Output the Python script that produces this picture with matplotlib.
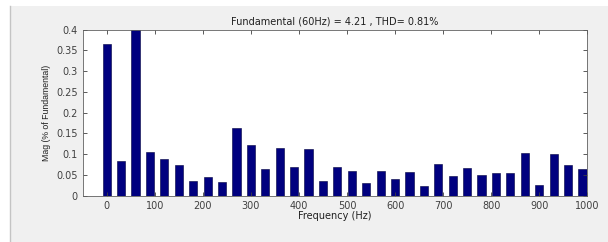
"""
Спектр гармоник (FFT) - столбчатая диаграмма
"""
import matplotlib
matplotlib.use('Agg')
import matplotlib.pyplot as plt
from matplotlib.patches import Rectangle
from matplotlib.lines import Line2D

# частоты гармоник (Гц) и амплитуды (% от основной)
freqs = [0, 30, 60, 90, 120, 150, 180, 210, 240, 270, 300, 330, 360, 390, 420,
         450, 480, 510, 540, 570, 600, 630, 660, 690, 720, 750, 780, 810, 840,
         870, 900, 930, 960, 990]
mags = [0.365, 0.083, 0.42, 0.105, 0.089, 0.075, 0.035, 0.045, 0.034, 0.163,
        0.123, 0.064, 0.114, 0.070, 0.112, 0.035, 0.070, 0.059, 0.030, 0.059,
        0.040, 0.057, 0.024, 0.077, 0.048, 0.067, 0.050, 0.055, 0.054, 0.103,
        0.026, 0.101, 0.073, 0.065]
xticks = [0, 100, 200, 300, 400, 500, 600, 700, 800, 900, 1000]
yticks = [0, 0.05, 0.1, 0.15, 0.2, 0.25, 0.3, 0.35, 0.4]
ytick_labels = ['0', '0.05', '0.1', '0.15', '0.2', '0.25', '0.3', '0.35', '0.4']
title = 'Fundamental (60Hz) = 4.21 , THD= 0.81%'

plt.rcParams['font.family'] = ['DejaVu Sans']

fig = plt.figure(figsize=(6.08, 2.42), dpi=100)
fig.patch.set_facecolor('white')
# серая панель окна
fig.patches.append(Rectangle((10 / 608, 0), 1, 1 - 6 / 242, transform=fig.transFigure,
                             facecolor='#f0f0f0', edgecolor='none', zorder=-5))
fig.lines.append(Line2D([10 / 608, 10 / 608], [0, 1 - 6 / 242], transform=fig.transFigure,
                        color='#c4c4c4', lw=1.0, zorder=-4))

ax = fig.add_axes([82.7 / 608, 1 - 195.7 / 242, (587.3 - 82.7) / 608, (195.7 - 29.7) / 242])
ax.set_facecolor('white')
ax.bar(freqs, mags, width=17, color='#00007f', edgecolor='#000040', linewidth=0.4)

ax.set_xlim(-50, 1000)
ax.set_ylim(0, 0.4)
ax.set_xticks(xticks)
ax.set_yticks(yticks)
ax.set_yticklabels(ytick_labels)
ax.tick_params(direction='in', top=True, right=True, labelsize=7, length=3,
               colors='#404040', width=0.6)
for s in ax.spines.values():
    s.set_color('#606060')
    s.set_linewidth(0.6)

ax.set_title(title, fontsize=7, color='#202020', pad=4)
ax.set_xlabel('Frequency (Hz)', fontsize=7, color='#202020', labelpad=0)
ax.set_ylabel('Mag (% of Fundamental)', fontsize=6.3, color='#202020', labelpad=4,
              family='Liberation Sans')

fig.savefig('out.png', dpi=100, facecolor=fig.get_facecolor())
